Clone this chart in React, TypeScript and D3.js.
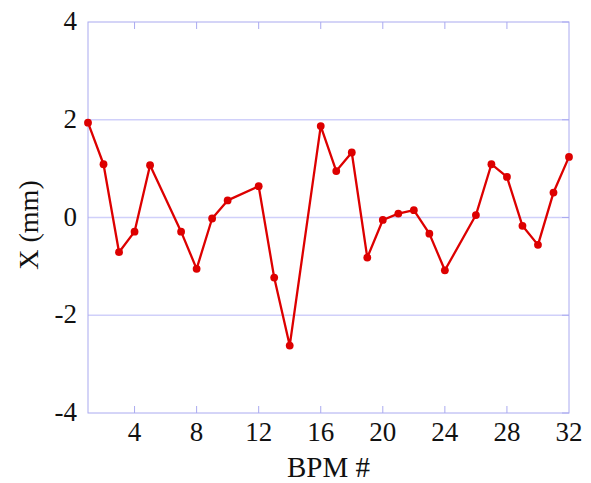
import React from "react";
import * as d3 from "d3";

const bpm = [1, 2, 3, 4, 5, 7, 8, 9, 10, 12, 13, 14, 16, 17, 18, 19, 20, 21, 22, 23, 24, 26, 27, 28, 29, 30, 31, 32];
const xValues = [1.94, 1.09, -0.71, -0.29, 1.07, -0.29, -1.05, -0.02, 0.35, 0.64, -1.23, -2.62, 1.87, 0.95, 1.33, -0.82, -0.05, 0.08, 0.15, -0.33, -1.08, 0.05, 1.09, 0.83, -0.17, -0.56, 0.51, 1.24];
const xTicks = [4, 8, 12, 16, 20, 24, 28, 32];
const yTicks = [-4, -2, 0, 2, 4];

const W = 591, H = 483;
const M = { left: 88, right: 569, top: 22, bottom: 413 };
const font = "'Liberation Serif', 'Times New Roman', serif";

export default function App() {
  const x = d3.scaleLinear().domain([1, 32]).range([M.left, M.right]);
  const y = d3.scaleLinear().domain([-4, 4]).range([M.bottom, M.top]);
  const line = d3.line<number>().x((_, i) => x(bpm[i])).y((d) => y(d));
  const axisColor = "#aaaaf0";
  const gridColor = "#d0d0fa";
  const red = "#dd0000";
  return (
    <svg width={W} height={H} style={{ position: "absolute", left: 0, top: 0 }}>
      <rect width={W} height={H} fill="#fff" />
      {yTicks.filter((t) => t > -4 && t < 4).map((t) => (
        <line key={"g" + t} x1={M.left} x2={M.right} y1={y(t)} y2={y(t)} stroke={gridColor} strokeWidth={1.3} />
      ))}
      {xTicks.filter((t) => t < 32).map((t) => (
        <g key={"xt" + t}>
          <line x1={x(t)} x2={x(t)} y1={M.bottom} y2={M.bottom - 7} stroke={axisColor} strokeWidth={1} />
          <line x1={x(t)} x2={x(t)} y1={M.top} y2={M.top + 7} stroke={axisColor} strokeWidth={1} />
        </g>
      ))}
      {yTicks.map((t) => (
        <line key={"yt" + t} x1={M.right - 7} x2={M.right} y1={y(t)} y2={y(t)} stroke={axisColor} strokeWidth={1} />
      ))}
      <rect x={M.left} y={M.top} width={M.right - M.left} height={M.bottom - M.top} fill="none" stroke={axisColor} strokeWidth={1} />
      <path d={line(xValues) || ""} fill="none" stroke={red} strokeWidth={2.3} strokeLinejoin="round" />
      {xValues.map((v, i) => (
        <circle key={"p" + i} cx={x(bpm[i])} cy={y(v)} r={3.9} fill={red} />
      ))}
      {xTicks.map((t) => (
        <text key={"xl" + t} x={x(t)} y={441} textAnchor="middle" fontFamily={font} fontSize={27} fill="#111">{t}</text>
      ))}
      {yTicks.map((t) => (
        <text key={"yl" + t} x={77} y={y(t) + 8} textAnchor="end" fontFamily={font} fontSize={27} fill="#111">{t}</text>
      ))}
      <text x={(M.left + M.right) / 2} y={477} textAnchor="middle" fontFamily={font} fontSize={29} fill="#111">BPM #</text>
      <text transform={`translate(38, 225) rotate(-90)`} textAnchor="middle" fontFamily={font} fontSize={28} fill="#111">X (mm)</text>
    </svg>
  );
}
